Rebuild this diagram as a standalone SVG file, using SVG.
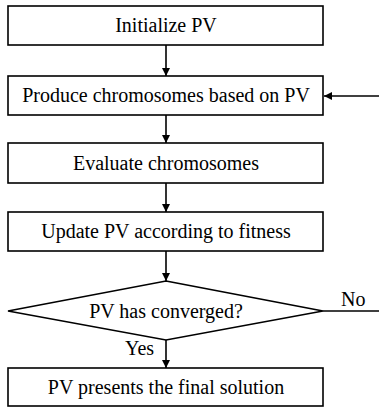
<svg xmlns="http://www.w3.org/2000/svg" width="379" height="409" viewBox="0 0 379 409">
<defs>
<style>
.box{fill:#fff;stroke:#000;stroke-width:1.6}
.t{font-family:'Liberation Serif','Times New Roman',serif;font-size:20px;fill:#000;text-anchor:middle}
.l{font-family:'Liberation Serif','Times New Roman',serif;font-size:20px;fill:#000}
.c{fill:none;stroke:#000;stroke-width:1.6}
</style>
<marker id="ah" viewBox="0 0 10 10" refX="10" refY="5" markerWidth="8" markerHeight="8" markerUnits="userSpaceOnUse" orient="auto">
<path d="M0,0 L10,5 L0,10 z" fill="#000"/>
</marker>
</defs>
<rect width="379" height="409" fill="#fff"/>
<g id="connectors">
<line class="c" x1="166" y1="45" x2="166" y2="76" marker-end="url(#ah)"/>
<line class="c" x1="166" y1="115" x2="166" y2="143" marker-end="url(#ah)"/>
<line class="c" x1="379" y1="96" x2="324" y2="96" marker-end="url(#ah)"/>
<line class="c" x1="166" y1="183" x2="166" y2="212" marker-end="url(#ah)"/>
<line class="c" x1="166" y1="251" x2="166" y2="281" marker-end="url(#ah)"/>
<line class="c" x1="166" y1="340" x2="166" y2="368" marker-end="url(#ah)"/>
<line class="c" x1="323" y1="311" x2="379" y2="311"/>
<text class="l" x="341" y="306">No</text>
<text class="l" x="125" y="355">Yes</text>
</g>
<g id="n1"><rect class="box" x="8" y="6" width="315" height="39"/><text class="t" x="166" y="32">Initialize PV</text></g>
<g id="n2"><rect class="box" x="8" y="76" width="315" height="39"/><text class="t" x="166" y="102">Produce chromosomes based on PV</text></g>
<g id="n3"><rect class="box" x="8" y="143" width="315" height="40"/><text class="t" x="166" y="170">Evaluate chromosomes</text></g>
<g id="n4"><rect class="box" x="8" y="212" width="315" height="39"/><text class="t" x="166" y="238">Update PV according to fitness</text></g>
<g id="n5"><polygon class="box" points="166,281 323,311 166,340 8,311"/><text class="t" x="166" y="318">PV has converged?</text></g>
<g id="n6"><rect class="box" x="8" y="368" width="315" height="38"/><text class="t" x="166" y="394">PV presents the final solution</text></g>
</svg>
